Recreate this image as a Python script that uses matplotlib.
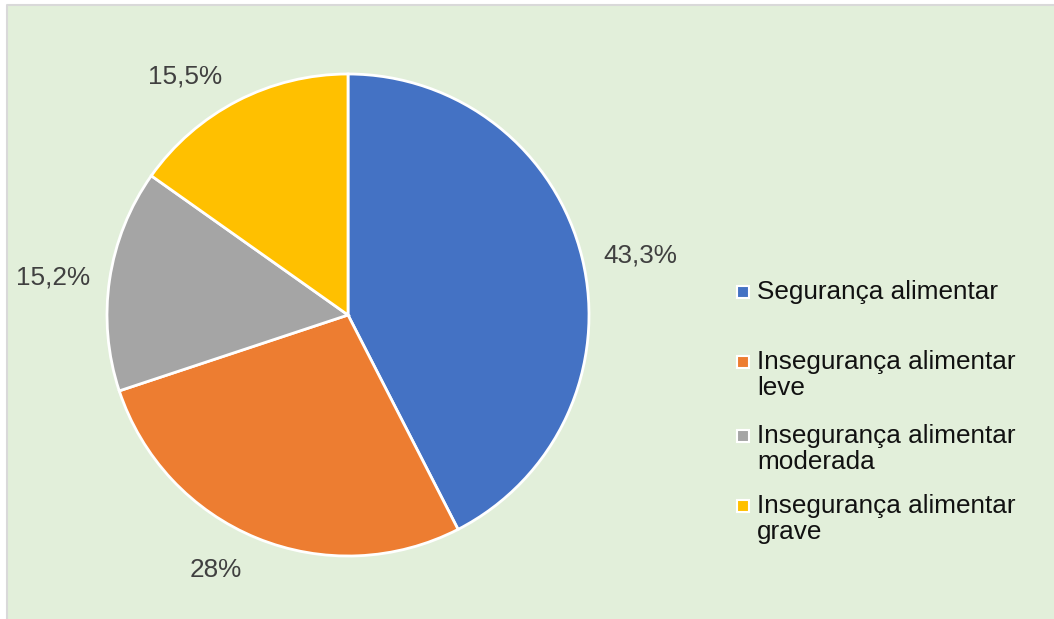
import matplotlib.pyplot as plt
from matplotlib.patches import Rectangle
from matplotlib.lines import Line2D
import numpy as np

plt.rcParams['font.family'] = ['Liberation Sans', 'DejaVu Sans']

# Data
categories = ['Segurança alimentar',
              'Insegurança alimentar\nleve',
              'Insegurança alimentar\nmoderada',
              'Insegurança alimentar\ngrave']
values = [43.3, 28, 15.2, 15.5]
value_labels = ['43,3%', '28%', '15,2%', '15,5%']
colors = ['#4472C4', '#ED7D31', '#A5A5A5', '#FFC000']

W, H = 1054, 619
fig = plt.figure(figsize=(W / 100, H / 100), dpi=100)
fig.patch.set_facecolor('white')

# chart area background, light border on left and top
fig.patches.append(Rectangle((7 / W, 0), 1, (H - 5) / H,
                             transform=fig.transFigure, facecolor='#E2EFDA',
                             edgecolor='none', zorder=-2))
fig.lines.append(Line2D([7 / W, 7 / W, 1], [0, (H - 5) / H, (H - 5) / H],
                        transform=fig.transFigure, color='#D9D9D9',
                        linewidth=1.5, zorder=-1))

# pie axes: center (348, 315) px, radius 241 px
cx, cy, r = 348, 315, 241
half = 300
ax = fig.add_axes([(cx - half) / W, (H - cy - half) / H, 2 * half / W, 2 * half / H])
ax.set_facecolor('none')
wedges, _ = ax.pie(values, colors=colors, startangle=90, counterclock=False,
                   radius=1, wedgeprops=dict(edgecolor='white', linewidth=2))
lim = half / r
ax.set_xlim(-lim, lim)
ax.set_ylim(-lim, lim)
ax.set_aspect('equal')
ax.axis('off')

# value labels outside each wedge (distance, angular nudge in degrees)
label_dist = [1.237, 1.191, 1.234, 1.197]
label_nudge = [-2.0, -5.2, 1.2, 7.0]
for w, txt, d, nudge in zip(wedges, value_labels, label_dist, label_nudge):
    ang = np.deg2rad((w.theta1 + w.theta2) / 2 + nudge)
    ax.text(d * np.cos(ang), d * np.sin(ang), txt, ha='center', va='center',
            fontsize=18.8, color='#404040', clip_on=False)

# legend drawn by hand
leg_x = 743
leg_y = [292, 362, 436, 506]
line_step = 26
for label, col, y in zip(categories, colors, leg_y):
    fig.patches.append(Rectangle(((leg_x - 6) / W, (H - y - 6) / H), 12 / W, 12 / H,
                                 transform=fig.transFigure, facecolor=col,
                                 edgecolor='white', linewidth=1.5, zorder=2))
    for i, line in enumerate(label.split('\n')):
        fig.text((leg_x + 14) / W, (H - y - i * line_step) / H, line,
                 ha='left', va='center', fontsize=18.8, color='#111111')

fig.savefig('out.png', dpi=100, facecolor=fig.get_facecolor())
